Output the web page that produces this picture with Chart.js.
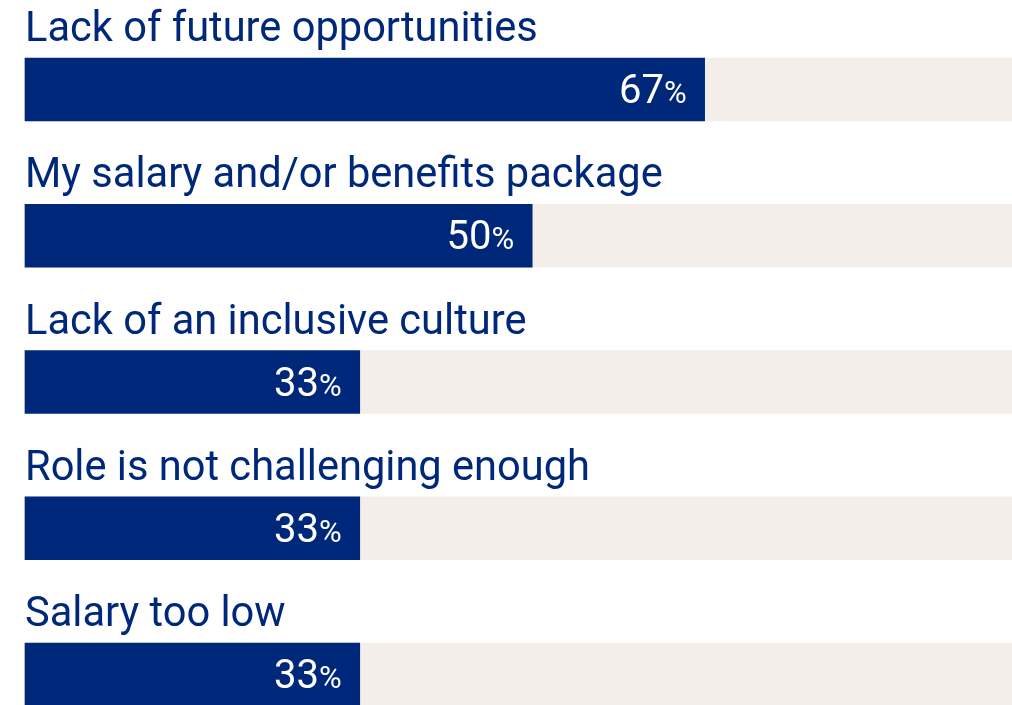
<!DOCTYPE html>
<html>
<head>
<meta charset="utf-8">
<script src="https://cdn.jsdelivr.net/npm/chart.js@4"></script>
<style>
  html, body { margin: 0; padding: 0; background: #ffffff; }
  #wrap { width: 1012px; height: 705px; position: relative; }
</style>
</head>
<body>
<div id="wrap"><canvas id="chart"></canvas></div>
<script>
const categories = [
  'Lack of future opportunities',
  'My salary and/or benefits package',
  'Lack of an inclusive culture',
  'Role is not challenging enough',
  'Salary too low'
];
const shares = [67, 50, 33, 33, 33];
const trackValues = [100, 100, 100, 100, 100];

const NAVY = '#00287a';
const TRACK = '#f3eee9';
const FONT = 'Roboto, "Open Sans", sans-serif';

// Category titles above each bar and value labels inside bar ends
const labelPlugin = {
  id: 'barLabels',
  afterDatasetsDraw(chart) {
    const ctx = chart.ctx;
    const meta = chart.getDatasetMeta(0);
    ctx.save();
    meta.data.forEach((bar, i) => {
      const top = bar.y - bar.height / 2;
      // title
      ctx.font = '41.6px ' + FONT;
      ctx.fillStyle = NAVY;
      ctx.textAlign = 'left';
      ctx.textBaseline = 'alphabetic';
      ctx.fillText(categories[i], bar.base, top - 17);
      // value
      const baseline = bar.y + 13.5;
      const right = bar.x - 18;
      ctx.fillStyle = '#ffffff';
      ctx.font = '31px ' + FONT;
      const pw = ctx.measureText('%').width;
      ctx.textAlign = 'right';
      ctx.fillText('%', right, baseline);
      ctx.font = '40px ' + FONT;
      ctx.fillText(String(shares[i]), right - pw, baseline);
    });
    ctx.restore();
  }
};

new Chart(document.getElementById('chart'), {
  type: 'bar',
  data: {
    labels: categories,
    datasets: [
      {
        data: shares,
        backgroundColor: NAVY,
        barThickness: 63,
        order: 0,
        clip: false
      },
      {
        data: trackValues,
        backgroundColor: TRACK,
        barThickness: 63,
        order: 1,
        clip: false
      }
    ]
  },
  options: {
    indexAxis: 'y',
    responsive: true,
    maintainAspectRatio: false,
    animation: false,
    datasets: { bar: { grouped: false } },
    layout: { padding: { left: 25, right: 0, top: 89.5, bottom: 30.5 } },
    scales: {
      x: { display: false, min: 0, max: 97.3 },
      y: { display: false, offset: false }
    },
    plugins: {
      legend: { display: false },
      tooltip: { enabled: false }
    }
  },
  plugins: [labelPlugin]
});
</script>
</body>
</html>
